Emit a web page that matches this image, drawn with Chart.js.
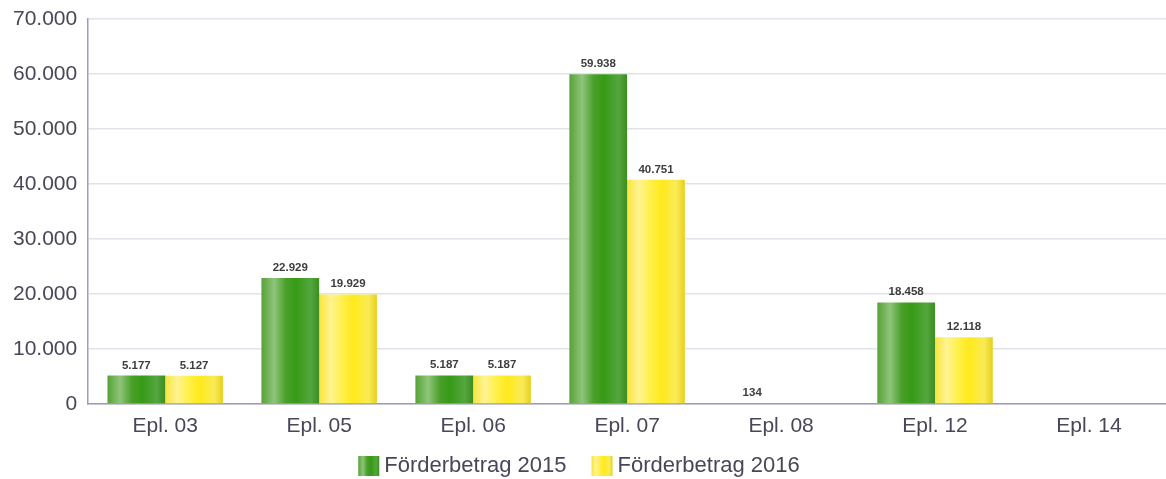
<!DOCTYPE html>
<html>
<head>
<meta charset="utf-8">
<script src="https://cdn.jsdelivr.net/npm/chart.js@4"></script>
<style>
html,body{margin:0;padding:0;background:#fff;}
#wrap{width:1166px;height:479px;position:relative;}
</style>
</head>
<body>
<div id="wrap"><canvas id="c"></canvas></div>
<script>
const categories = ['Epl. 03','Epl. 05','Epl. 06','Epl. 07','Epl. 08','Epl. 12','Epl. 14'];
const series2015 = [5177, 22929, 5187, 59938, 134, 18458, null];
const series2016 = [5127, 19929, 5187, 40751, null, 12118, null];
const seriesNames = ['Förderbetrag 2015','Förderbetrag 2016'];
const yMax = 70000;
const yStep = 10000;

const TEXT = '#474759';
const FONT = '"Liberation Sans", Arial, sans-serif';

function fmt(v){
  return String(Math.round(v)).replace(/\B(?=(\d{3})+(?!\d))/g,'.');
}

const stops = [
  [[0,'#55a236'],[0.22,'#8fc57b'],[0.42,'#4aa02a'],[0.6,'#369a16'],[0.85,'#54a63e'],[1,'#3c8e22']],
  [[0,'#f9e53a'],[0.2,'#fff393'],[0.4,'#fff04a'],[0.6,'#ffea1c'],[0.85,'#f9eb58'],[1,'#e6d01c']]
];
function makeGrad(ctx2d, left, right, di){
  const g = ctx2d.createLinearGradient(left,0,right,0);
  stops[di].forEach(s=>g.addColorStop(s[0],s[1]));
  return g;
}

const CAT_PCT = 0.75;
function barBg(context){
  const chart = context.chart;
  const xs = chart.scales && chart.scales.x;
  const di = context.datasetIndex;
  const solid = stops[di][3][1];
  if(!xs || context.dataIndex === undefined) return solid;
  const catW = xs.width / categories.length;
  const center = xs.getPixelForValue(context.dataIndex);
  if(!isFinite(catW) || !isFinite(center) || catW <= 0) return solid;
  const bw = catW*CAT_PCT/2;
  const left = center - catW*CAT_PCT/2 + di*bw;
  return makeGrad(chart.ctx, left, left+bw, di);
}

const valueLabels = {
  id:'valueLabels',
  afterDatasetsDraw(chart){
    const ctx = chart.ctx;
    ctx.save();
    ctx.font = 'bold 11.5px ' + FONT;
    ctx.fillStyle = '#3d3d3d';
    ctx.textAlign = 'center';
    ctx.textBaseline = 'alphabetic';
    chart.data.datasets.forEach((ds,di)=>{
      const meta = chart.getDatasetMeta(di);
      meta.data.forEach((el,i)=>{
        const v = ds.data[i];
        if(v===null || v===undefined) return;
        ctx.fillText(fmt(v), el.x, el.y - 7);
      });
    });
    ctx.restore();
  }
};

const BOX_SHIFT = 6;
const LEGEND_DX = -8;
const legendGrad = {
  id:'legendGrad',
  beforeDraw(chart){
    const lg = chart.legend;
    if(!lg || lg._shifted) return;
    lg.left += LEGEND_DX; lg.right += LEGEND_DX;
    (lg.legendHitBoxes||[]).forEach(hb=>{ hb.left += LEGEND_DX; });
    lg._shifted = true;
  },
  afterDraw(chart){
    const lg = chart.legend;
    if(!lg || !lg.legendHitBoxes) return;
    const ctx = chart.ctx;
    const bw = lg.options.labels.boxWidth, bh = lg.options.labels.boxHeight;
    lg.legendHitBoxes.forEach((hb,i)=>{
      const top = hb.top + (hb.height - bh)/2;
      ctx.save();
      ctx.fillStyle = '#ffffff';
      ctx.fillRect(hb.left-1, top-1, bw+2, bh+2);
      ctx.fillStyle = makeGrad(ctx, hb.left+BOX_SHIFT, hb.left+BOX_SHIFT+bw, i);
      ctx.fillRect(hb.left+BOX_SHIFT, top, bw, bh);
      ctx.restore();
    });
  }
};

new Chart(document.getElementById('c'), {
  type:'bar',
  data:{
    labels: categories,
    datasets:[
      {label: seriesNames[0], data: series2015, backgroundColor: barBg, borderWidth:0},
      {label: seriesNames[1], data: series2016, backgroundColor: barBg, borderWidth:0}
    ]
  },
  options:{
    responsive:true,
    maintainAspectRatio:false,
    animation:false,
    categoryPercentage: CAT_PCT,
    barPercentage: 1,
    layout:{padding:{left:2,right:0,top:0,bottom:-8}},
    plugins:{
      legend:{
        position:'bottom',
        labels:{
          color:TEXT,
          font:{family:FONT,size:22},
          boxWidth:21,
          boxHeight:20,
          padding:19
        }
      },
      tooltip:{enabled:false}
    },
    scales:{
      x:{
        grid:{display:false, drawTicks:false},
        border:{display:true,color:'#9d9db8',width:1.5},
        ticks:{color:TEXT,font:{family:FONT,size:21},padding:10},
        afterFit(scale){ scale.height = 32; }
      },
      y:{
        min:0,max:yMax,
        grid:{color:'#e2e2ea',lineWidth:1.5,drawTicks:false},
        border:{display:true,color:'#9d9db8',width:1.5},
        ticks:{stepSize:yStep,color:TEXT,font:{family:FONT,size:21},padding:11,callback:v=>fmt(v)},
        afterFit(scale){ scale.paddingTop = 19; }
      }
    }
  },
  plugins:[valueLabels, legendGrad]
});
</script>
</body>
</html>
